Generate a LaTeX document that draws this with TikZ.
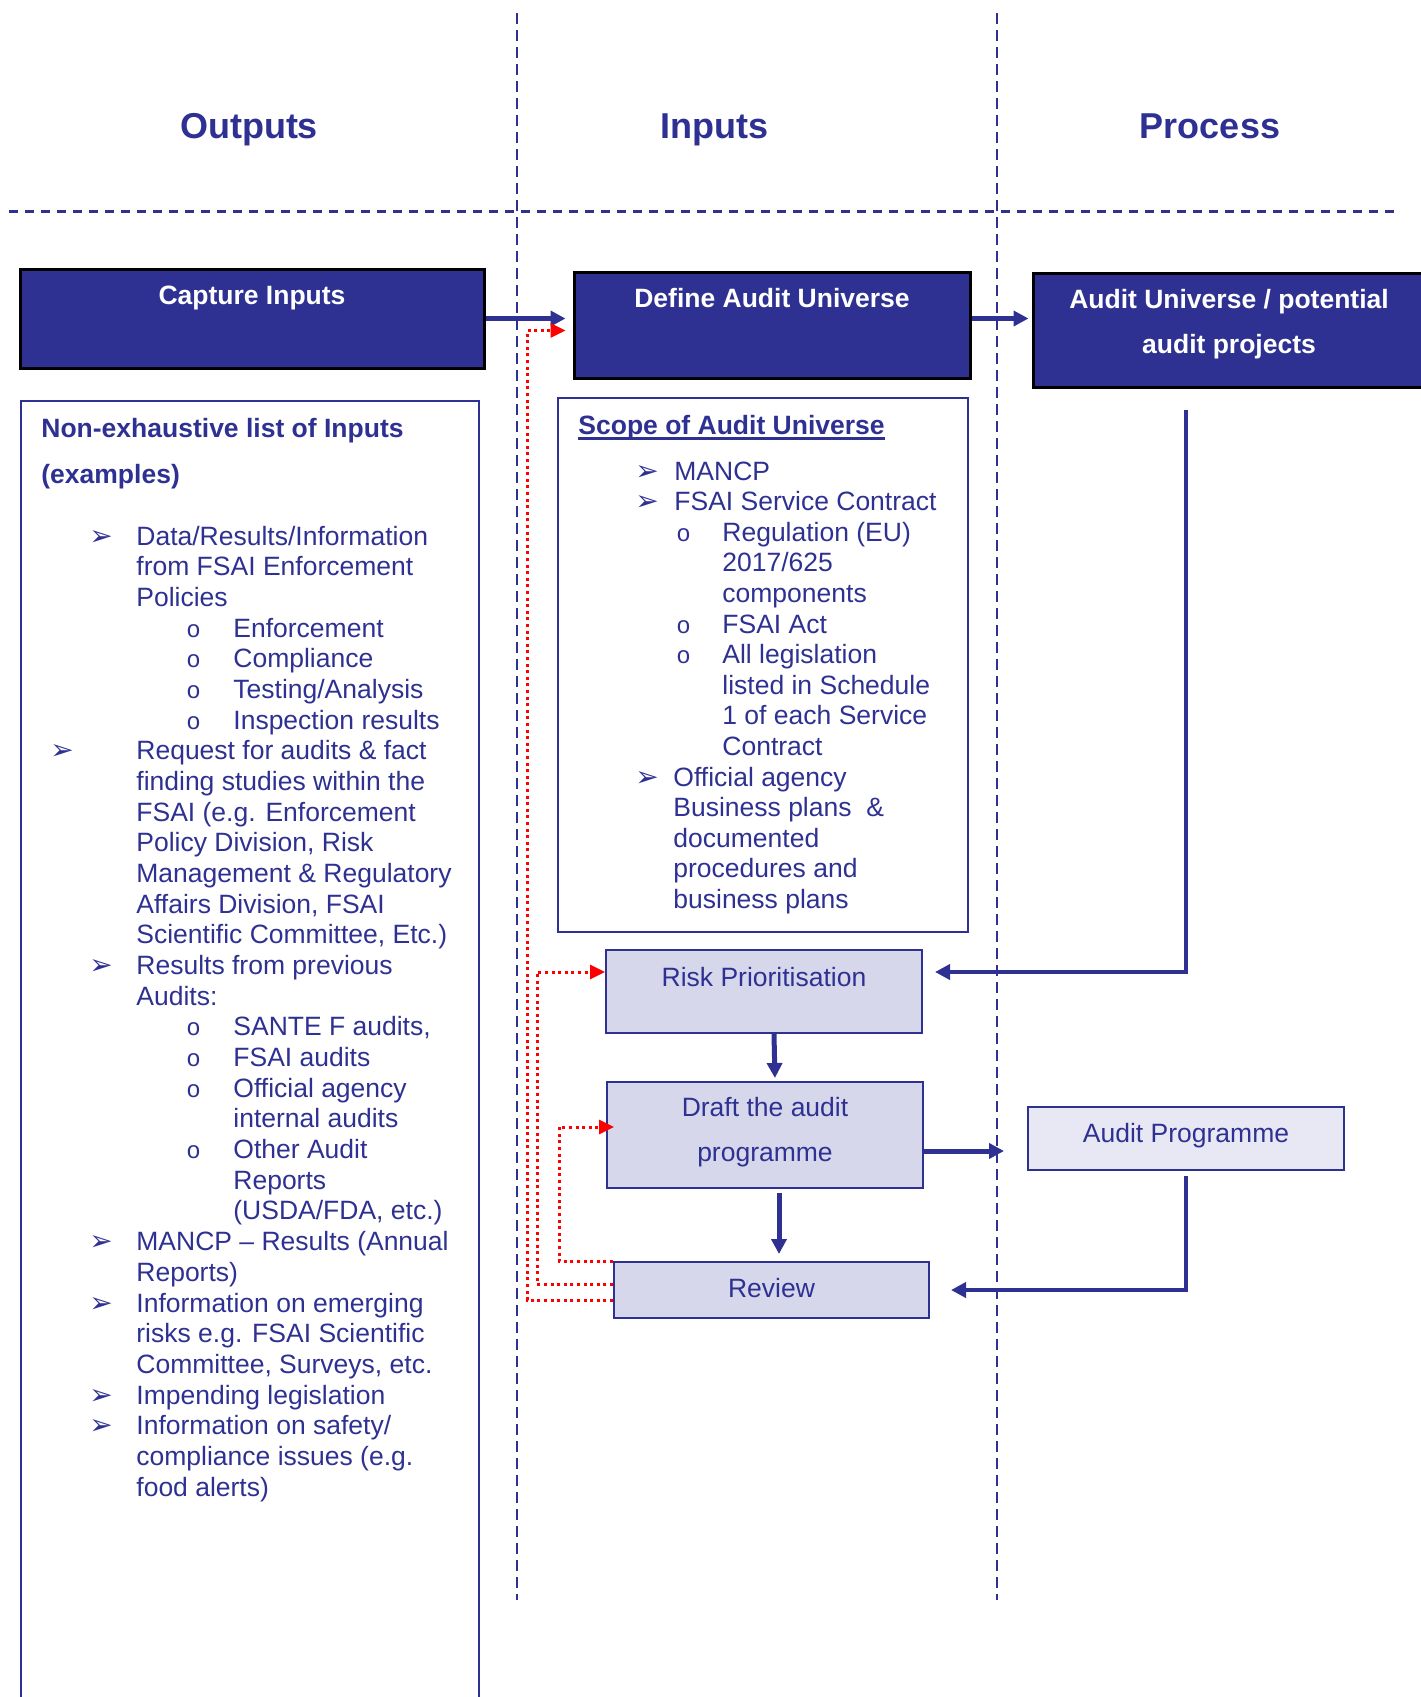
\documentclass[tikz,border=0pt]{standalone}
\usepackage{fontspec}
\setmainfont{Liberation Sans}
\newfontfamily\dingfont{DejaVu Sans}
\newfontfamily\bulletfont{Liberation Mono}
\usetikzlibrary{arrows.meta}
\definecolor{ublue}{RGB}{46,49,146}
\definecolor{ulav}{RGB}{214,215,235}
\definecolor{upale}{RGB}{232,232,244}

\begin{document}
\begin{tikzpicture}
  [x=0.5pt,y=-0.5pt,
   every node/.style={inner sep=0pt,text=ublue,font=\fontsize{13.25}{15.4}\selectfont},
   colhead/.style={font=\bfseries\fontsize{18}{22}\selectfont,anchor=base},
   darkbox/.style={draw=black,line width=1.5pt,fill=ublue,text=white,align=center,
     font=\bfseries\fontsize{13.25}{22.75}\selectfont},
   lightbox/.style={draw=ublue,line width=1pt,fill=ulav,align=center,
     font=\fontsize{13.25}{22.5}\selectfont},
   listbox/.style={draw=ublue,line width=1pt,anchor=north west},
   listline/.style={anchor=base west},
   listtitle/.style={anchor=base west,font=\bfseries\fontsize{13.25}{15.4}\selectfont},
   arrowbullet/.style={anchor=base west,font=\dingfont\fontsize{14}{15}\selectfont},
   circbullet/.style={anchor=base west,font=\bulletfont\fontsize{12}{13}\selectfont},
   flow/.style={draw=ublue,line width=2.5pt,-{Triangle[length=7.5pt,width=7.5pt]}},
   feedback/.style={draw=red,line width=1.5pt,dash pattern=on 1.5pt off 1.8pt,
     -{Triangle[length=7.5pt,width=7pt]}},
   lane/.style={draw=ublue,line width=1.2pt,dash pattern=on 5.5pt off 3pt}]
  \useasboundingbox (0,0) rectangle (1420,1697);

  % column separators
  \draw[lane] (517,13) -- (517,1600);
  \draw[lane] (997,13) -- (997,1600);
  \draw[lane,line width=1.5pt,dash pattern=on 4.5pt off 3.5pt] (9,211) -- (1400,211);

  \node[colhead] (hout)  at (249,138.5)  {Outputs};
  \node[colhead] (hin)   at (714,138.5)  {Inputs};
  \node[colhead] (hproc) at (1210,138.5) {Process};

  \node[darkbox,minimum width=232pt,text height=17.5pt,text depth=32pt] (capture) at (252,318.5) {Capture Inputs};
  \node[darkbox,minimum width=198pt,text height=17.5pt,text depth=35.5pt] (define) at (772,325) {Define Audit Universe};
  \node[darkbox,minimum width=196pt,text height=40.25pt,text depth=16.75pt] (au) at (1229,330) {Audit Universe / potential\\audit projects};

  \node[lightbox,minimum width=158pt,text height=18pt,text depth=23.5pt] (risk) at (764,991.5) {Risk Prioritisation};
  \node[lightbox,minimum width=158pt,text height=39.85pt,text depth=13.15pt] (draft) at (765,1135) {Draft the audit\\programme};
  \node[lightbox,minimum width=157.5pt,text height=17.5pt,text depth=10.5pt] (review) at (771.5,1290) {Review};
  \node[lightbox,fill=upale,minimum width=158pt,text height=17.5pt,text depth=14pt] (ap) at (1186,1138.5) {Audit Programme};

  % list of inputs
  \node[listbox,minimum width=229pt,minimum height=660pt] (inbox) at (20,400) {};
  \node[listtitle] (intitle) at (41,437) {Non-exhaustive list of Inputs};
  \node[listtitle] (inexamples) at (41,483) {(examples)};
  \foreach \x/\t [count=\i from 0] in {136/{Data/Results/Information},136/{from FSAI Enforcement},136/{Policies},
      233/{Enforcement},233/{Compliance},233/{Testing/Analysis},233/{Inspection results},
      136/{Request for audits \& fact},136/{finding studies within the},136/{FSAI (e.g. Enforcement},
      136/{Policy Division, Risk},136/{Management \& Regulatory},136/{Affairs Division, FSAI},
      136/{Scientific Committee, Etc.)},136/{Results from previous},136/{Audits:},
      233/{SANTE F audits,},233/{FSAI audits},233/{Official agency},233/{internal audits},
      233/{Other Audit},233/{Reports},233/{(USDA/FDA, etc.)},
      136/{MANCP -- Results (Annual},136/{Reports)},136/{Information on emerging},
      136/{risks e.g. FSAI Scientific},136/{Committee, Surveys, etc.},136/{Impending legislation},
      136/{Information on safety/},136/{compliance issues (e.g.},136/{food alerts)}}
    \node[listline] (in\i) at (\x,545+30.68*\i) {\t};
  \foreach \x/\i in {89/0,50/7,89/14,89/23,89/25,89/28,89/29}
    \node[arrowbullet] (inarrow\i) at (\x,545+30.68*\i) {➢};
  \foreach \i in {3,4,5,6,16,17,18,20}
    \node[circbullet] (incirc\i) at (186,545+30.68*\i) {o};

  % scope of audit universe
  \node[listbox,minimum width=204.75pt,minimum height=266.75pt] (scope) at (557,397) {};
  \node[listtitle] (scopetitle) at (578,434.4) {Scope of Audit Universe};
  \draw[ublue,line width=1.2pt] ([yshift=-2pt]scopetitle.base west) -- ([yshift=-2pt]scopetitle.base east);
  \foreach \x/\t [count=\i from 0] in {674/{MANCP},674/{FSAI Service Contract},722/{Regulation (EU)},
      722/{2017/625},722/{components},722/{FSAI Act},722/{All legislation},722/{listed in Schedule},
      722/{1 of each Service},722/{Contract},673/{Official agency},673/{Business plans \ \&},
      673/{documented},673/{procedures and},673/{business plans}}
    \node[listline] (sc\i) at (\x,480+30.6*\i) {\t};
  \foreach \i in {0,1,10}
    \node[arrowbullet] (scarrow\i) at (635,480+30.6*\i) {➢};
  \foreach \i in {2,5,6}
    \node[circbullet] (sccirc\i) at (676,480+30.6*\i) {o};

  % main flow
  \draw[flow,shorten >=3.5pt] (capture.east) -- (capture.east -| define.west);
  \draw[flow,shorten >=1.5pt] (define.east |- capture.east) -- (au.west |- capture.east);
  \draw[flow,shorten <=10.5pt,shorten >=6pt,line width=2pt] (ap.north |- au.south) |- ([yshift=-11.5pt]risk.north east);
  \draw[flow,shorten >=1.5pt] ([xshift=5pt]risk.south) -- ([xshift=5pt]draft.north);
  \draw[flow,shorten <=2pt,shorten >=3.5pt] ([xshift=7pt]draft.south) -- ([xshift=7pt]draft.south |- review.north);
  \draw[flow,shorten >=11.5pt] ([yshift=-8pt]draft.east) -- ([yshift=-8pt]draft.east -| ap.west);
  \draw[flow,shorten <=2.5pt,shorten >=10.5pt,line width=2pt] (ap.south) |- (review.east);

  % review feedback
  \draw[feedback,shorten >=3.5pt] ([yshift=-5pt]review.west) -- ++(-86,0) |- ([yshift=-30pt]define.north west);
  \draw[feedback] ([yshift=3pt]review.west) -- ++(-76,0) |- ([yshift=-11.5pt]risk.north west);
  \draw[feedback,shorten >=-4pt] (review.north west) -- ++(-54,0) |- ([yshift=-23pt]draft.north west);
\end{tikzpicture}
\end{document}
